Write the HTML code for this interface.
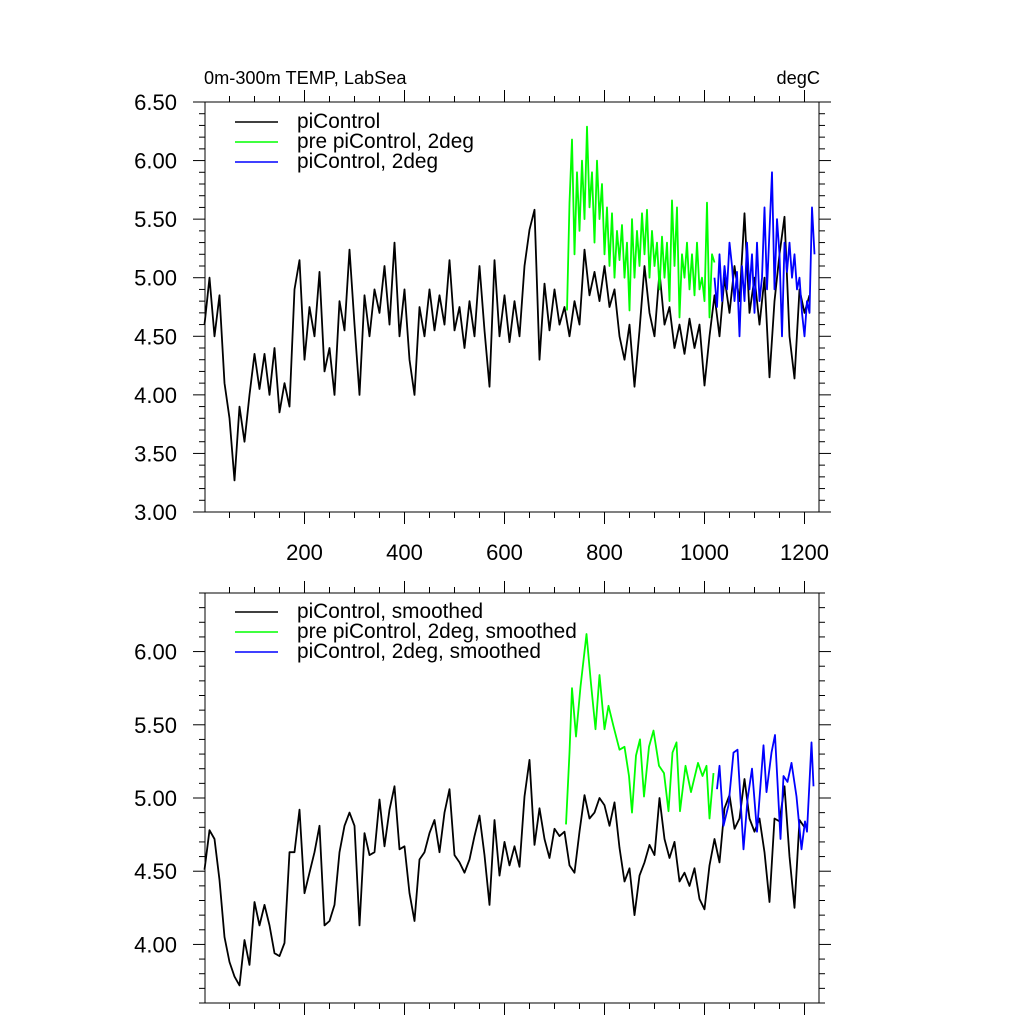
<!DOCTYPE html>
<html><head><meta charset="utf-8"><style>
body{margin:0;background:#fff;width:1024px;height:1024px;overflow:hidden}
svg text{font-family:"Liberation Sans",sans-serif;fill:#000}
</style></head><body>
<svg id="chart" width="1024" height="1024" xmlns="http://www.w3.org/2000/svg"></svg>
<script>
const blackRawStart=0, blackRawStep=10;
const blackRaw=[4.6,5.0,4.5,4.85,4.1,3.8,3.27,3.9,3.6,4.0,4.35,4.05,4.35,4.0,4.4,3.85,4.1,3.9,4.9,5.15,4.3,4.75,4.5,5.05,4.2,4.4,4.0,4.8,4.55,5.24,4.6,4.0,4.85,4.5,4.9,4.7,5.1,4.6,5.3,4.5,4.9,4.3,4.0,4.75,4.5,4.9,4.55,4.85,4.6,5.15,4.55,4.75,4.4,4.8,4.5,5.1,4.55,4.07,5.15,4.5,4.85,4.45,4.8,4.5,5.1,5.41,5.58,4.3,4.95,4.55,4.9,4.6,4.75,4.5,4.8,4.6,5.24,4.85,5.05,4.8,5.1,4.75,4.9,4.5,4.3,4.6,4.07,4.55,5.1,4.7,4.5,5.05,4.6,4.75,4.4,4.6,4.35,4.65,4.4,4.6,4.08,4.5,4.85,4.5,5.0,4.7,5.1,4.8,5.55,4.7,5.0,4.6,5.0,4.15,4.8,5.2,5.52,4.5,4.14,4.9,4.7,4.85];
const greenRawStart=725, greenRawStep=5;
const greenRaw=[4.72,5.64,6.18,5.2,5.9,5.4,6.0,5.5,6.29,5.6,5.9,5.3,6.0,5.5,5.8,5.2,5.6,5.1,5.55,5.0,5.4,5.15,5.45,5.0,5.3,4.72,5.5,5.0,5.4,5.1,5.55,5.2,5.58,5.0,5.4,5.1,5.3,4.9,5.35,5.0,5.3,4.8,5.66,5.1,5.6,4.66,5.2,5.0,5.3,4.9,5.2,4.85,5.3,4.9,5.0,4.8,5.64,4.66,5.2,5.13];
const blueRawStart=1020, blueRawStep=5;
const blueRaw=[5.0,4.75,5.2,4.8,5.1,4.9,5.3,5.1,4.8,5.05,4.5,5.1,4.8,5.3,4.9,5.2,4.7,5.3,4.8,5.0,5.6,4.9,5.4,5.9,4.9,5.5,5.2,4.5,5.3,5.05,5.3,5.0,5.2,4.9,5.0,4.7,4.5,4.8,4.7,5.6,5.2];
const blackSmStart=0, blackSmStep=10;
const blackSm=[4.51,4.78,4.72,4.44,4.05,3.88,3.78,3.72,4.03,3.86,4.29,4.13,4.27,4.13,3.94,3.92,4.01,4.63,4.63,4.92,4.35,4.49,4.63,4.81,4.13,4.16,4.27,4.63,4.81,4.90,4.81,4.13,4.76,4.61,4.63,4.99,4.67,4.92,5.08,4.65,4.67,4.35,4.16,4.58,4.63,4.76,4.85,4.63,4.90,5.06,4.61,4.56,4.49,4.58,4.74,4.88,4.61,4.27,4.85,4.47,4.70,4.54,4.67,4.53,5.01,5.26,4.68,4.93,4.72,4.59,4.79,4.74,4.77,4.54,4.49,4.77,5.02,4.86,4.90,5.00,4.95,4.81,4.97,4.66,4.43,4.52,4.20,4.47,4.56,4.68,4.61,5.00,4.72,4.59,4.70,4.43,4.49,4.40,4.52,4.31,4.24,4.54,4.72,4.56,4.93,5.02,4.79,4.86,5.13,4.86,4.77,4.86,4.63,4.29,4.86,4.84,5.08,4.60,4.25,4.85,4.80];
const greenSmYears=[723,730,735,743,752,764,773,782,790,800,808,818,830,840,849,855,863,871,879,889,898,909,919,928,936,944,951,962,973,987,996,1004,1010,1018];
const greenSm=[4.82,5.31,5.75,5.42,5.76,6.12,5.78,5.47,5.84,5.47,5.63,5.49,5.33,5.35,5.15,4.90,5.29,5.40,5.01,5.35,5.46,5.22,5.17,4.91,5.31,5.38,4.91,5.22,5.04,5.24,5.15,5.22,4.86,5.17];
const blueSmYears=[1025,1030,1038,1048,1058,1066,1078,1086,1095,1105,1118,1124,1134,1141,1152,1158,1166,1174,1184,1194,1201,1205,1214,1218];
const blueSm=[5.06,5.22,4.81,4.95,5.31,5.33,4.65,4.99,5.20,4.77,5.36,5.04,5.31,5.43,4.72,5.15,5.11,5.24,5.01,4.65,4.84,4.77,5.38,5.08];
const topYTicks=["3.00","3.50","4.00","4.50","5.00","5.50","6.00","6.50"];
const botYTicks=["4.00","4.50","5.00","5.50","6.00"];
const xTickLabels=["200","400","600","800","1000","1200"];

const NS="http://www.w3.org/2000/svg";
const svg=document.getElementById('chart');
const L=205,R=819;
const xs=yr=>204.5+yr*0.5;
const P1={top:102,bot:512,min:3.0,max:6.5};
const P2={top:593,bot:1003,min:3.6,max:6.4};
const ys=(p,v)=>p.bot-(v-p.min)/(p.max-p.min)*(p.bot-p.top);
function mk(tag,attrs,parent){const e=document.createElementNS(NS,tag);for(const k in attrs)e.setAttribute(k,attrs[k]);(parent||svg).appendChild(e);return e;}
function line(x1,y1,x2,y2,g){return mk('line',{x1,y1,x2,y2,stroke:'#000','stroke-width':1},g);}

function drawPanel(p,name,yLabels,showX){
  const g=mk('g',{});
  
  
  mk('rect',{x:L,y:p.top,width:R-L,height:p.bot-p.top,fill:'none',stroke:'#000','stroke-width':1},g);
  for(let yr=50;yr<=1225;yr+=50){
    const x=xs(yr),maj=yr%200===0,len=maj?12:6;
    line(x,p.bot,x,p.bot+len,g);line(x,p.top,x,p.top-len,g);
  }
  for(let i=Math.ceil(p.min*10);i<=Math.floor(p.max*10);i++){
    const v=i/10,y=ys(p,v),maj=i%5===0,len=maj?12:6;
    line(L,y,L-len,y,g);line(R,y,R+len,y,g);
  }
  yLabels.forEach(t=>{
    const tx=mk('text',{x:177,y:ys(p,parseFloat(t))+8,'text-anchor':'end','font-size':22},g);
    tx.textContent=t;
    
    
  });
  if(showX){xTickLabels.forEach(t=>{
    const tx=mk('text',{x:xs(parseFloat(t)),y:560,'text-anchor':'middle','font-size':22},g);
    tx.textContent=t;
    
    
  });}
}
function series(p,years,vals,color,name){
  const d=vals.map((v,i)=>(i?'L':'M')+xs(years[i]).toFixed(1)+','+ys(p,v).toFixed(1)).join('');
  const e=mk('path',{d,fill:'none',stroke:color,'stroke-width':1.8,'stroke-linejoin':'round'});
  
  
}
const seq=(s,st,n)=>Array.from({length:n},(_,i)=>s+i*st);
drawPanel(P1,'top-panel',topYTicks,true);
drawPanel(P2,'bottom-panel',botYTicks,false);
series(P1,seq(blackRawStart,blackRawStep,blackRaw.length),blackRaw,'#000','picontrol-line');
series(P1,seq(greenRawStart,greenRawStep,greenRaw.length),greenRaw,'#00ff00','pre-picontrol-2deg-line');
series(P1,seq(blueRawStart,blueRawStep,blueRaw.length),blueRaw,'#0000ff','picontrol-2deg-line');
series(P2,seq(blackSmStart,blackSmStep,blackSm.length),blackSm,'#000','picontrol-smoothed-line');
series(P2,greenSmYears,greenSm,'#00ff00','pre-picontrol-2deg-smoothed-line');
series(P2,blueSmYears,blueSm,'#0000ff','picontrol-2deg-smoothed-line');

function legend(y0,items,name){
  items.forEach((it,i)=>{
    const y=y0+i*20;
    const l=mk('line',{x1:235,y1:y,x2:278,y2:y,stroke:it[1],'stroke-width':1.5});
    
    
    const t=mk('text',{x:297,y:y+6,'font-size':20.8});
    t.textContent=it[0];
    
    
  });
}
legend(122,[["piControl","#000"],["pre piControl, 2deg","#00ff00"],["piControl, 2deg","#0000ff"]],'top-legend');
legend(612,[["piControl, smoothed","#000"],["pre piControl, 2deg, smoothed","#00ff00"],["piControl, 2deg, smoothed","#0000ff"]],'bottom-legend');
const t1=mk('text',{x:204,y:84,'font-size':18.2});t1.textContent="0m-300m TEMP, LabSea";


const t2=mk('text',{x:820,y:84,'font-size':18.2,'text-anchor':'end'});t2.textContent="degC";


</script>
</body></html>
